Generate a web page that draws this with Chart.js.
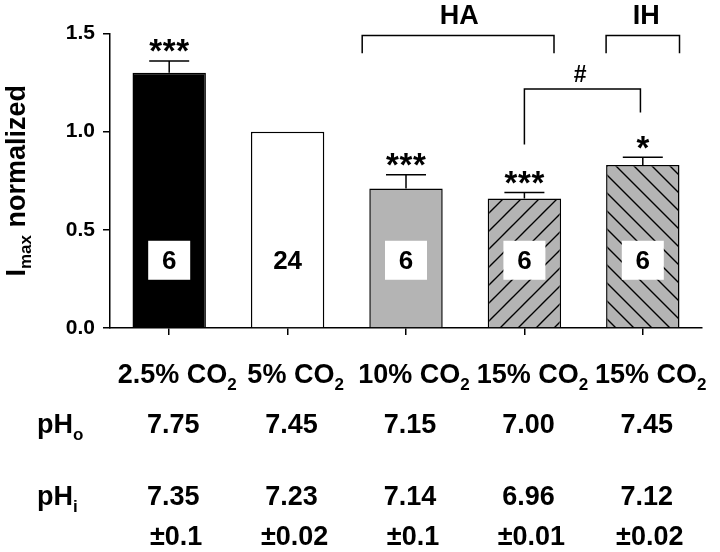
<!DOCTYPE html>
<html>
<head>
<meta charset="utf-8">
<script src="https://cdn.jsdelivr.net/npm/chart.js@4"></script>
<style>
  html, body { margin: 0; padding: 0; background: #fff; }
  #wrap { width: 720px; height: 552px; }
</style>
</head>
<body>
<div id="wrap"><canvas id="imaxChart" width="720" height="552"></canvas></div>
<script>
// values
const categories = ['2.5% CO2', '5% CO2', '10% CO2', '15% CO2', '15% CO2'];
const imaxMean = [1.30, 1.00, 0.71, 0.66, 0.83];
const imaxSem = [0.06, 0, 0.07, 0.03, 0.04];
const nCells = ['6', '24', '6', '6', '6'];
const sigStars = ['***', '', '***', '***', '*'];
const pHo = ['7.75', '7.45', '7.15', '7.00', '7.45'];
const pHi = ['7.35', '7.23', '7.14', '6.96', '7.12'];
const pHiSd = ['±0.1', '±0.02', '±0.1', '±0.01', '±0.02'];

const FONT = '"Liberation Sans", Arial, sans-serif';
const GRAY = '#b4b4b4';

function hatch(dir) {
  const s = 18;
  const c = document.createElement('canvas');
  c.width = s; c.height = s;
  const g = c.getContext('2d');
  g.fillStyle = GRAY;
  g.fillRect(0, 0, s, s);
  g.strokeStyle = '#000';
  g.lineWidth = 1.4;
  g.beginPath();
  if (dir === '/') {
    g.moveTo(0, s); g.lineTo(s, 0);
    g.moveTo(-s / 2, s / 2); g.lineTo(s / 2, -s / 2);
    g.moveTo(s / 2, 3 * s / 2); g.lineTo(3 * s / 2, s / 2);
  } else {
    g.moveTo(0, 0); g.lineTo(s, s);
    g.moveTo(-s / 2, s / 2); g.lineTo(s / 2, 3 * s / 2);
    g.moveTo(s / 2, -s / 2); g.lineTo(3 * s / 2, s / 2);
  }
  g.stroke();
  return g.createPattern(c, 'repeat');
}

const ctx = document.getElementById('imaxChart').getContext('2d');
const fills = ['#000000', '#ffffff', GRAY, hatch('/'), hatch('\\')];

// text with a subscript tail, anchored by its centre or left edge
function subText(c, main, sub, x, y, size, align) {
  c.font = `bold ${size}px ${FONT}`;
  const w1 = c.measureText(main).width;
  c.font = `bold ${Math.round(size * 0.62)}px ${FONT}`;
  const w2 = c.measureText(sub).width;
  const x0 = align === 'center' ? x - (w1 + w2) / 2 : x;
  c.textAlign = 'left';
  c.textBaseline = 'alphabetic';
  c.font = `bold ${size}px ${FONT}`;
  c.fillText(main, x0, y);
  c.font = `bold ${Math.round(size * 0.62)}px ${FONT}`;
  c.fillText(sub, x0 + w1, y + size * 0.27);
}

const extras = {
  id: 'extras',
  afterDatasetsDraw(chart) {
    const c = chart.ctx;
    const xs = chart.scales.x, ys = chart.scales.y;
    const px = v => xs.getPixelForValue(v);
    const py = v => ys.getPixelForValue(v);
    c.save();
    c.strokeStyle = '#000';
    c.fillStyle = '#000';
    c.lineWidth = 1.5;

    // error bars (upper only)
    imaxMean.forEach((m, i) => {
      if (!imaxSem[i]) return;
      const x = px(i), yt = py(m + imaxSem[i]);
      c.beginPath();
      c.moveTo(x, py(m)); c.lineTo(x, yt);
      c.moveTo(x - 20, yt); c.lineTo(x + 20, yt);
      c.stroke();
    });

    // significance stars
    c.font = `bold 33px ${FONT}`;
    c.textAlign = 'center';
    c.textBaseline = 'alphabetic';
    const ms = c.measureText('*');
    const half = (ms.actualBoundingBoxAscent - ms.actualBoundingBoxDescent) / 2;
    sigStars.forEach((s, i) => {
      if (!s) return;
      const mid = py(imaxMean[i] + imaxSem[i]) - 15;
      for (let k = 0; k < s.length; k++) {
        c.fillText('*', px(i) + (k - (s.length - 1) / 2) * 13.5, mid + half);
      }
    });

    // n boxes
    c.font = `bold 26px ${FONT}`;
    nCells.forEach((n, i) => {
      const x = px(i), y = py(0.345);
      c.fillStyle = '#fff';
      c.fillRect(x - 21, y - 19.5, 42, 39);
      c.fillStyle = '#000';
      const mt = c.measureText(n);
      c.fillText(n, x, y + mt.actualBoundingBoxAscent / 2);
    });

    // group brackets
    const bracket = (a, b, top, legA, legB) => {
      c.beginPath();
      c.moveTo(px(a), py(legA)); c.lineTo(px(a), py(top));
      c.lineTo(px(b), py(top)); c.lineTo(px(b), py(legB));
      c.stroke();
    };
    bracket(1.63, 3.25, 1.49, 1.40, 1.40);
    bracket(3.69, 4.31, 1.49, 1.40, 1.40);
    bracket(3.0, 3.98, 1.217, 0.934, 1.098);
    c.font = `bold 27px ${FONT}`;
    c.fillText('HA', px(2.45), py(1.55));
    c.fillText('IH', px(4.03), py(1.55));
    c.font = `bold 23px ${FONT}`;
    c.fillText('#', px(3.47), py(1.255));

    // category labels and pH table
    const b = chart.chartArea.bottom;
    categories.forEach((lab, i) => {
      subText(c, lab.slice(0, -1), lab.slice(-1), px(i) + 8, b + 55, 27, 'center');
    });
    c.font = `bold 27px ${FONT}`;
    c.textAlign = 'center';
    pHo.forEach((v, i) => c.fillText(v, px(i) + 4, b + 105));
    pHi.forEach((v, i) => c.fillText(v, px(i) + 4, b + 177));
    pHiSd.forEach((v, i) => c.fillText(v, px(i) + 7, b + 217));
    subText(c, 'pH', 'o', 37, b + 105, 27, 'left');
    subText(c, 'pH', 'i', 37, b + 177, 27, 'left');

    // y axis title
    c.save();
    c.translate(25, (chart.chartArea.top + b) / 2);
    c.rotate(-Math.PI / 2);
    c.font = `bold 27px ${FONT}`;
    const wI = c.measureText('I').width;
    const wN = c.measureText(' normalized').width;
    c.font = `bold 17px ${FONT}`;
    const wM = c.measureText('max').width;
    const x0 = -(wI + wM + wN) / 2;
    c.textAlign = 'left';
    c.font = `bold 27px ${FONT}`;
    c.fillText('I', x0, 0);
    c.font = `bold 17px ${FONT}`;
    c.fillText('max', x0 + wI, 6);
    c.font = `bold 27px ${FONT}`;
    c.fillText(' normalized', x0 + wI + wM, 0);
    c.restore();

    c.restore();
  }
};

new Chart(ctx, {
  type: 'bar',
  data: {
    labels: categories,
    datasets: [{
      data: imaxMean,
      backgroundColor: fills,
      borderColor: '#000',
      borderWidth: 1.5,
      barPercentage: 0.62,
      categoryPercentage: 1
    }]
  },
  options: {
    responsive: false,
    animation: false,
    layout: { padding: { top: 33.5, right: 18, left: 0, bottom: 0 } },
    plugins: { legend: { display: false }, tooltip: { enabled: false } },
    scales: {
      x: {
        offset: true,
        grid: { offset: false, drawOnChartArea: false, tickLength: 7, color: '#000', lineWidth: 1.5 },
        border: { color: '#000', width: 1.5 },
        ticks: { display: false },
        afterFit: s => { s.height = 224; }
      },
      y: {
        min: 0, max: 1.5,
        grid: { drawOnChartArea: false, tickLength: 7, color: '#000', lineWidth: 1.5 },
        border: { color: '#000', width: 1.5 },
        ticks: {
          stepSize: 0.5, padding: 8, color: '#000',
          font: { family: FONT, size: 21, weight: 'bold' },
          callback: v => v.toFixed(1)
        },
        afterFit: s => { s.width = 110; }
      }
    }
  },
  plugins: [extras]
});
</script>
</body>
</html>
